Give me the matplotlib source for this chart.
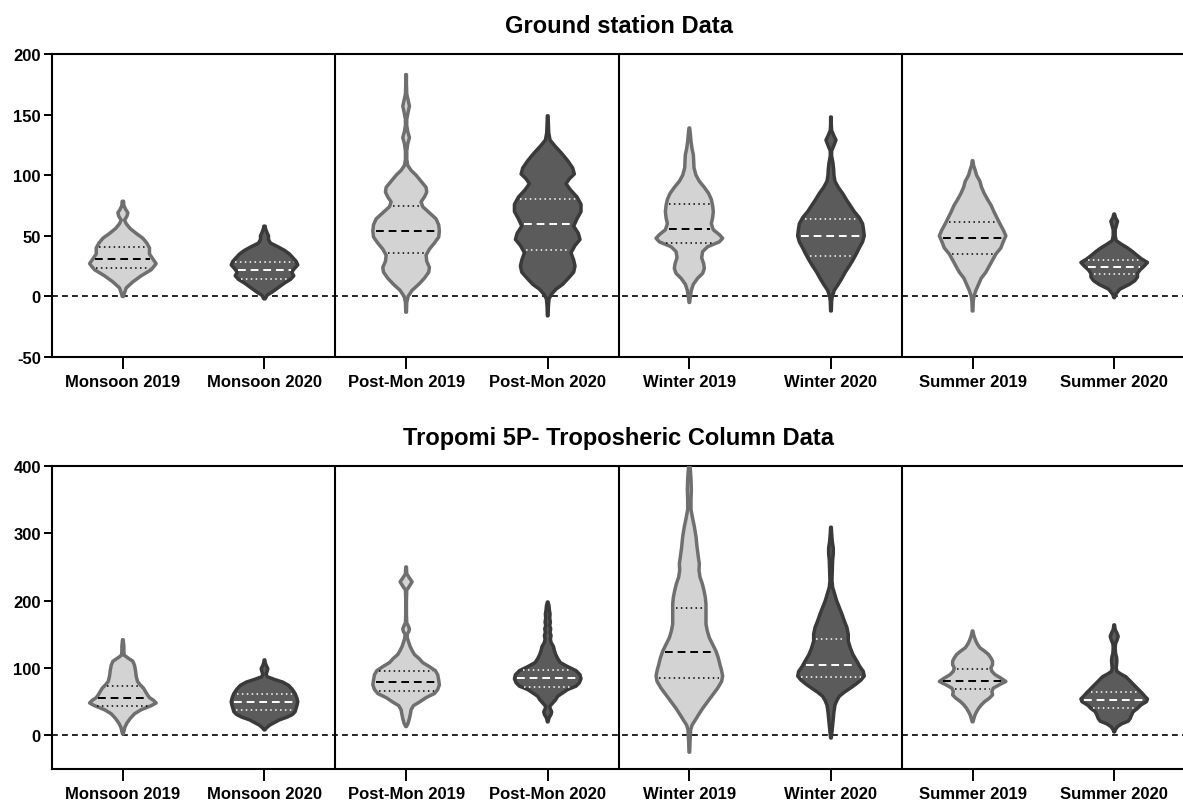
import matplotlib
matplotlib.use("Agg")
import matplotlib.pyplot as plt
import numpy as np

plt.rcParams['font.family'] = ['Liberation Sans', 'DejaVu Sans']
plt.rcParams['axes.unicode_minus'] = False

labels = ['Monsoon 2019', 'Monsoon 2020', 'Post-Mon 2019', 'Post-Mon 2020',
          'Winter 2019', 'Winter 2020', 'Summer 2019', 'Summer 2020']

# ---- Ground station: violin outlines (value, relative half width) ----
gs_mon19_y = [0, 3, 7, 12, 17, 22, 27, 31, 35, 40, 44, 48, 52, 56, 60, 63, 66, 69, 72, 75, 78.5]
gs_mon19_w = [0.02, 0.05, 0.1, 0.3, 0.55, 0.85, 1.0, 0.9, 0.8, 0.8, 0.72, 0.6, 0.4, 0.22, 0.1, 0.05, 0.12, 0.15, 0.08, 0.03, 0.02]
gs_mon20_y = [-2, 1, 4, 8, 11, 14, 17, 20, 23, 26, 29, 32, 35, 38, 41, 44, 47, 50, 53, 56, 58]
gs_mon20_w = [0.02, 0.08, 0.25, 0.45, 0.6, 0.78, 0.88, 0.82, 0.9, 1.0, 0.95, 0.85, 0.75, 0.6, 0.4, 0.18, 0.12, 0.12, 0.07, 0.03, 0.02]
gs_post19_y = [-13, -5, 0, 5, 10, 15, 20, 24, 29, 34, 39, 44, 49, 54, 59, 64, 69, 74, 78, 82, 86, 90,
               95, 100, 104, 108, 113, 120, 126, 131, 136, 141, 146, 152, 157, 162, 167, 175, 183]
gs_post19_w = [0.01, 0.02, 0.06, 0.18, 0.38, 0.55, 0.68, 0.7, 0.62, 0.6, 0.7, 0.85, 0.98, 1.0, 0.98, 0.9, 0.7, 0.5, 0.45, 0.55, 0.62, 0.6,
               0.45, 0.3, 0.15, 0.05, 0.02, 0.02, 0.05, 0.1, 0.05, 0.02, 0.02, 0.06, 0.1, 0.06, 0.02, 0.01, 0.01]
gs_post20_y = [-16, -8, -2, 2, 6, 10, 15, 20, 25, 30, 36, 42, 47, 52, 58, 64, 70, 76, 82, 88, 93, 97,
               101, 106, 112, 118, 124, 129, 135, 142, 149]
gs_post20_w = [0.01, 0.02, 0.04, 0.12, 0.25, 0.45, 0.62, 0.78, 0.82, 0.78, 0.7, 0.82, 0.97, 0.92, 0.78, 0.88, 1.0, 1.0, 0.88, 0.68, 0.55, 0.65,
               0.8, 0.75, 0.6, 0.42, 0.22, 0.07, 0.03, 0.02, 0.01]
gs_win19_y = [-5, 0, 5, 10, 15, 19, 23, 27, 32, 37, 41, 45, 48, 51, 55, 60, 65, 70, 75, 80, 85, 90,
              95, 100, 106, 112, 117, 122, 128, 134, 139]
gs_win19_w = [0.01, 0.03, 0.06, 0.12, 0.25, 0.4, 0.45, 0.43, 0.37, 0.4, 0.55, 0.9, 1.0, 0.9, 0.72, 0.66, 0.7, 0.72, 0.7, 0.66, 0.58, 0.45,
              0.3, 0.2, 0.14, 0.13, 0.12, 0.08, 0.05, 0.03, 0.01]
gs_win20_y = [-12, -4, 0, 5, 10, 15, 20, 25, 30, 35, 40, 45, 50, 55, 60, 65, 70, 75, 80, 85, 90, 95,
              100, 105, 110, 116, 120, 124, 129, 133, 137, 142, 148]
gs_win20_w = [0.01, 0.02, 0.04, 0.1, 0.22, 0.33, 0.43, 0.55, 0.66, 0.76, 0.85, 0.95, 1.0, 0.98, 0.95, 0.85, 0.7, 0.58, 0.46, 0.35, 0.22, 0.12,
              0.09, 0.08, 0.06, 0.02, 0.02, 0.08, 0.15, 0.08, 0.02, 0.01, 0.01]
gs_sum19_y = [-12, -4, 0, 5, 10, 15, 20, 25, 30, 35, 40, 45, 50, 55, 60, 65, 70, 75, 80, 85, 90, 95,
              100, 104, 108, 112]
gs_sum19_w = [0.01, 0.02, 0.04, 0.1, 0.18, 0.26, 0.4, 0.5, 0.6, 0.7, 0.85, 0.92, 1.0, 0.92, 0.82, 0.73, 0.64, 0.56, 0.45, 0.35, 0.27, 0.22,
              0.12, 0.08, 0.03, 0.01]
gs_sum20_y = [-1, 2, 6, 10, 13, 16, 19, 22, 25, 28, 31, 34, 37, 40, 43, 46, 50, 55, 58, 62, 65, 68]
gs_sum20_w = [0.01, 0.05, 0.17, 0.46, 0.62, 0.7, 0.7, 0.78, 0.9, 1.0, 0.82, 0.68, 0.55, 0.4, 0.22, 0.06, 0.03, 0.03, 0.06, 0.1, 0.04, 0.01]

gs_median = [30.5, 22, 53.6, 59.4, 55.8, 49.8, 48.4, 24.2]
gs_q1 = [23.4, 14, 36, 38, 43.7, 33, 34.7, 18.7]
gs_q3 = [40.4, 28, 74.5, 80, 75.9, 63.5, 61.6, 30]

# ---- Tropomi 5P tropospheric column ----
tr_mon19_y = [2, 6, 12, 18, 25, 32, 38, 44, 48, 52, 56, 60, 65, 70, 75, 80, 88, 96, 104, 110, 115, 119,
              125, 132, 137, 142]
tr_mon19_w = [0.01, 0.03, 0.06, 0.12, 0.22, 0.35, 0.55, 0.85, 1.0, 0.92, 0.8, 0.74, 0.68, 0.62, 0.52, 0.44, 0.4, 0.38, 0.35, 0.3, 0.15, 0.04,
              0.03, 0.03, 0.02, 0.01]
tr_mon20_y = [8, 11, 15, 19, 23, 27, 31, 35, 40, 45, 50, 56, 62, 68, 74, 79, 83, 87, 91, 95, 99, 104, 108, 112]
tr_mon20_w = [0.01, 0.06, 0.15, 0.3, 0.45, 0.68, 0.84, 0.92, 0.95, 0.98, 1.0, 0.97, 0.92, 0.84, 0.73, 0.55, 0.3, 0.08, 0.05, 0.08, 0.1, 0.05, 0.02, 0.01]
tr_post19_y = [13, 18, 25, 32, 38, 44, 50, 56, 62, 68, 75, 82, 90, 96, 102, 108, 114, 120, 126, 132, 138, 144,
               150, 154, 158, 162, 167, 180, 200, 216, 220, 228, 235, 240, 250]
tr_post19_w = [0.01, 0.06, 0.1, 0.13, 0.15, 0.22, 0.42, 0.6, 0.85, 0.95, 1.0, 0.98, 0.95, 0.88, 0.7, 0.5, 0.39, 0.25, 0.18, 0.12, 0.08, 0.04,
               0.03, 0.08, 0.1, 0.07, 0.02, 0.01, 0.01, 0.02, 0.08, 0.18, 0.08, 0.02, 0.01]
tr_post20_y = [20, 26, 31, 35, 39, 43, 48, 53, 58, 63, 68, 73, 78, 84, 90, 96, 102, 108, 114, 120, 126, 132,
               138, 143, 148, 153, 158, 163, 168, 174, 180, 186, 192, 198]
tr_post20_w = [0.01, 0.04, 0.1, 0.12, 0.08, 0.06, 0.15, 0.24, 0.3, 0.45, 0.6, 0.85, 0.95, 1.0, 0.97, 0.85, 0.6, 0.38, 0.3, 0.24, 0.2, 0.17,
               0.1, 0.08, 0.1, 0.07, 0.09, 0.06, 0.08, 0.06, 0.07, 0.05, 0.04, 0.01]
tr_win19_y = [-25, -10, 0, 8, 15, 22, 30, 40, 50, 60, 70, 80, 88, 96, 105, 115, 125, 135, 145, 155, 165, 175,
              185, 195, 205, 215, 225, 235, 245, 255, 265, 280, 295, 310, 322, 335, 350, 365, 380, 395, 403]
tr_win19_w = [0.01, 0.02, 0.03, 0.04, 0.08, 0.17, 0.27, 0.4, 0.55, 0.7, 0.85, 0.97, 1.0, 0.97, 0.92, 0.87, 0.8, 0.7, 0.6, 0.54, 0.5, 0.5,
              0.5, 0.5, 0.48, 0.44, 0.39, 0.32, 0.29, 0.3, 0.27, 0.23, 0.2, 0.15, 0.1, 0.05, 0.05, 0.06, 0.05, 0.03, 0.01]
tr_win20_y = [-4, 5, 15, 25, 35, 45, 52, 58, 64, 70, 76, 82, 88, 95, 102, 110, 120, 130, 140, 150, 160, 170,
              180, 190, 200, 210, 220, 230, 245, 260, 270, 278, 288, 300, 309]
tr_win20_w = [0.01, 0.03, 0.05, 0.07, 0.09, 0.12, 0.18, 0.25, 0.4, 0.58, 0.75, 0.9, 1.0, 0.97, 0.87, 0.78, 0.66, 0.58, 0.52, 0.52, 0.48, 0.4,
              0.33, 0.25, 0.17, 0.11, 0.05, 0.03, 0.04, 0.05, 0.07, 0.07, 0.04, 0.02, 0.01]
tr_sum19_y = [20, 25, 30, 35, 40, 45, 50, 55, 60, 65, 70, 75, 80, 85, 90, 95, 100, 105, 110, 115, 120, 125,
              130, 135, 140, 145, 150, 155]
tr_sum19_w = [0.01, 0.04, 0.07, 0.12, 0.18, 0.26, 0.36, 0.5, 0.6, 0.58, 0.62, 0.8, 1.0, 0.85, 0.68, 0.58, 0.55, 0.6, 0.6, 0.55, 0.48, 0.36,
              0.22, 0.15, 0.1, 0.06, 0.03, 0.01]
tr_sum20_y = [5, 9, 13, 17, 21, 25, 30, 35, 40, 45, 50, 54, 58, 62, 67, 72, 77, 82, 87, 91, 95, 100,
              105, 111, 116, 122, 130, 136, 142, 147, 152, 157, 164]
tr_sum20_w = [0.01, 0.04, 0.1, 0.22, 0.42, 0.48, 0.52, 0.57, 0.7, 0.8, 0.97, 1.0, 0.92, 0.85, 0.75, 0.65, 0.55, 0.45, 0.35, 0.2, 0.08, 0.06,
              0.07, 0.08, 0.07, 0.04, 0.03, 0.04, 0.09, 0.12, 0.08, 0.03, 0.01]

tr_median = [54.8, 50, 79.5, 84.4, 124, 104, 80.5, 52.3]
tr_q1 = [44, 37.5, 65.7, 72, 84.4, 86.4, 68.6, 41]
tr_q3 = [73.6, 62, 95, 96.8, 189, 143.7, 98, 64.7]

gs_shapes = [(gs_mon19_y, gs_mon19_w), (gs_mon20_y, gs_mon20_w), (gs_post19_y, gs_post19_w),
             (gs_post20_y, gs_post20_w), (gs_win19_y, gs_win19_w), (gs_win20_y, gs_win20_w),
             (gs_sum19_y, gs_sum19_w), (gs_sum20_y, gs_sum20_w)]
tr_shapes = [(tr_mon19_y, tr_mon19_w), (tr_mon20_y, tr_mon20_w), (tr_post19_y, tr_post19_w),
             (tr_post20_y, tr_post20_w), (tr_win19_y, tr_win19_w), (tr_win20_y, tr_win20_w),
             (tr_sum19_y, tr_sum19_w), (tr_sum20_y, tr_sum20_w)]

LIGHT_FILL, LIGHT_EDGE = '#d3d3d3', '#6f6f6f'
DARK_FILL, DARK_EDGE = '#5b5b5b', '#3a3a3a'
HALF = 0.235


def draw_violins(ax, shapes, med, q1, q3):
    for i, (yy, ww) in enumerate(shapes):
        yy = np.asarray(yy, float)
        ww = np.asarray(ww, float) * HALF
        light = i % 2 == 0
        fc, ec = (LIGHT_FILL, LIGHT_EDGE) if light else (DARK_FILL, DARK_EDGE)
        xs = np.concatenate([i + ww, (i - ww)[::-1]])
        ys = np.concatenate([yy, yy[::-1]])
        ax.fill(xs, ys, facecolor=fc, edgecolor=ec, lw=2.5, joinstyle='round', zorder=3)
        lc = 'black' if light else 'white'
        # median dashed, quartiles dotted
        half = np.interp(med[i], yy, ww) - 0.02
        ax.plot([i - half, i + half], [med[i]] * 2, color=lc, lw=1.4,
                linestyle=(0, (4, 2.5)), zorder=4)
        for val in (q1[i], q3[i]):
            half = np.interp(val, yy, ww) - 0.02
            ax.plot([i - half, i + half], [val, val], color=lc, lw=1.1,
                    linestyle=(0, (1, 2.2)), zorder=4)


def style_axes(ax, title, ylim, yticks):
    ax.set_xlim(-0.5, 7.5)
    ax.set_ylim(*ylim)
    ax.set_yticks(yticks)
    ax.set_xticks(range(len(labels)))
    ax.set_xticklabels(labels)
    for sp in ax.spines.values():
        sp.set_linewidth(1.5)
    ax.tick_params(axis='x', length=8.5, width=1.4, pad=4, labelsize=12)
    ax.tick_params(axis='y', length=6, width=1.4, pad=2, labelsize=12)
    for t in ax.get_xticklabels() + ax.get_yticklabels():
        t.set_fontweight('bold')
    ax.axhline(0, color='black', lw=1.2, linestyle=(0, (3.5, 2.5)), zorder=1)
    for xsep in [1.5, 3.5, 5.5]:
        ax.axvline(xsep, color='black', lw=1.5, zorder=2)
    ax.set_title(title, fontsize=17, fontweight='bold', pad=16)


fig = plt.figure(figsize=(11.83, 8.04), dpi=100)
ax1 = fig.add_axes([0.044, 0.5547, 0.9577, 0.3769])
ax2 = fig.add_axes([0.044, 0.0423, 0.9577, 0.3769])

draw_violins(ax1, gs_shapes, gs_median, gs_q1, gs_q3)
style_axes(ax1, 'Ground station Data', (-50, 200), [-50, 0, 50, 100, 150, 200])

draw_violins(ax2, tr_shapes, tr_median, tr_q1, tr_q3)
style_axes(ax2, 'Tropomi 5P- Troposheric Column Data', (-50, 400), [0, 100, 200, 300, 400])

fig.savefig('out.png', dpi=100)
